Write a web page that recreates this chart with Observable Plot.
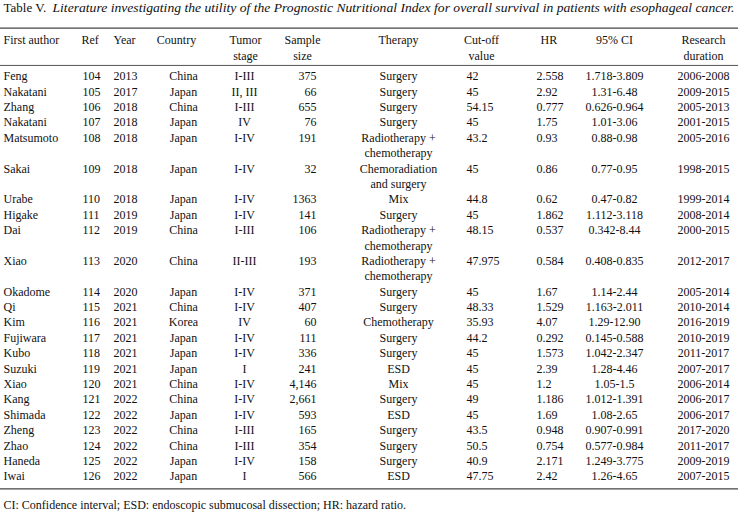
<!DOCTYPE html>
<html><head><meta charset="utf-8">
<script src="https://cdn.jsdelivr.net/npm/d3@7"></script>
<script src="https://cdn.jsdelivr.net/npm/@observablehq/plot@0.6"></script>
<style>body{margin:0;background:#fff;overflow:hidden}svg{display:block}</style>
</head><body><div id="chart"></div>
<script>
// ---- data ----
const authors = ["Feng","Nakatani","Zhang","Nakatani","Matsumoto","Sakai","Urabe","Higake","Dai","Xiao","Okadome","Qi","Kim","Fujiwara","Kubo","Suzuki","Xiao","Kang","Shimada","Zheng","Zhao","Haneda","Iwai"];
const refs = ["104","105","106","107","108","109","110","111","112","113","114","115","116","117","118","119","120","121","122","123","124","125","126"];
const years = ["2013","2017","2018","2018","2018","2018","2018","2019","2019","2020","2020","2021","2021","2021","2021","2021","2021","2022","2022","2022","2022","2022","2022"];
const countries = ["China","Japan","China","Japan","Japan","Japan","Japan","Japan","China","China","Japan","China","Korea","Japan","Japan","Japan","China","China","Japan","China","China","Japan","Japan"];
const stages = ["I-III","II, III","I-III","IV","I-IV","I-IV","I-IV","I-IV","I-III","II-III","I-IV","I-IV","IV","I-IV","I-IV","I","I-IV","I-IV","I-IV","I-III","I-III","I-IV","I"];
const sizes = ["375","66","655","76","191","32","1363","141","106","193","371","407","60","111","336","241","4,146","2,661","593","165","354","158","566"];
const therapies = ["Surgery","Surgery","Surgery","Surgery","Radiotherapy +\nchemotherapy","Chemoradiation\nand surgery","Mix","Surgery","Radiotherapy +\nchemotherapy","Radiotherapy +\nchemotherapy","Surgery","Surgery","Chemotherapy","Surgery","Surgery","ESD","Mix","Surgery","ESD","Surgery","Surgery","Surgery","ESD"];
const cutoffs = ["42","45","54.15","45","43.2","45","44.8","45","48.15","47.975","45","48.33","35.93","44.2","45","45","45","49","45","43.5","50.5","40.9","47.75"];
const hrs = ["2.558","2.92","0.777","1.75","0.93","0.86","0.62","1.862","0.537","0.584","1.67","1.529","4.07","0.292","1.573","2.39","1.2","1.186","1.69","0.948","0.754","2.171","2.42"];
const cis = ["1.718-3.809","1.31-6.48","0.626-0.964","1.01-3.06","0.88-0.98","0.77-0.95","0.47-0.82","1.112-3.118","0.342-8.44","0.408-0.835","1.14-2.44","1.163-2.011","1.29-12.90","0.145-0.588","1.042-2.347","1.28-4.46","1.05-1.5","1.012-1.391","1.08-2.65","0.907-0.991","0.577-0.984","1.249-3.775","1.26-4.65"];
const durations = ["2006-2008","2009-2015","2005-2013","2001-2015","2005-2016","1998-2015","1999-2014","2008-2014","2000-2015","2012-2017","2005-2014","2010-2014","2016-2019","2010-2019","2011-2017","2007-2017","2006-2014","2006-2017","2006-2017","2017-2020","2011-2017","2009-2019","2007-2015"];
const headerTop = ["First author","Ref","Year","Country","Tumor","Sample","Therapy","Cut-off","HR","95% CI","Research"];
const headerBottom = ["","","","","stage","size","","value","","","duration"];
const titleLead = "Table V.";
const titleText = "Literature investigating the utility of the Prognostic Nutritional Index for overall survival in patients with esophageal cancer.";
const footnote = "CI: Confidence interval; ESD: endoscopic submucosal dissection; HR: hazard ratio.";

// ---- build table ----
const fields = ["author","ref","year","country","stage","size","therapy","cutoff","hr","ci","duration"];
const rows = authors.map((a, i) => ({
  author: a, ref: refs[i], year: years[i], country: countries[i], stage: stages[i],
  size: sizes[i], therapy: therapies[i], cutoff: cutoffs[i], hr: hrs[i], ci: cis[i], duration: durations[i]
}));
let ln = 0;
rows.forEach(r => { r.line = ln; ln += r.therapy.split("\n").length; });
const lastLine = ln - 1;

// layout (positions of columns)
const layout = {
  author:   {x: 3,   anchor: "start",  hx: 3,   hanchor: "start"},
  ref:      {x: 82,  anchor: "start",  hx: 81,  hanchor: "start"},
  year:     {x: 113, anchor: "start",  hx: 113, hanchor: "start"},
  country:  {x: 183, anchor: "middle", hx: 176, hanchor: "middle"},
  stage:    {x: 244, anchor: "middle", hx: 245, hanchor: "middle"},
  size:     {x: 316, anchor: "end",    hx: 302, hanchor: "middle"},
  therapy:  {x: 398, anchor: "middle", hx: 398, hanchor: "middle"},
  cutoff:   {x: 466, anchor: "start",  hx: 481, hanchor: "middle"},
  hr:       {x: 536, anchor: "start",  hx: 540, hanchor: "start"},
  ci:       {x: 614, anchor: "middle", hx: 614, hanchor: "middle"},
  duration: {x: 703, anchor: "middle", hx: 703, hanchor: "middle"}
};
const font = "'Liberation Serif', 'Times New Roman', serif";
const fs = 12;
const ink = "#111";

const cells = rows.flatMap(r => fields.flatMap(f =>
  String(r[f]).split("\n").map((t, k) => ({field: f, text: t, line: r.line + k}))
));
const headers = fields.flatMap((f, i) => [
  {field: f, text: headerTop[i], line: -2.35},
  {field: f, text: headerBottom[i], line: -1.35}
]).filter(d => d.text);

const marks = [];
for (const f of fields) {
  const L = layout[f];
  marks.push(Plot.text(cells.filter(d => d.field === f), {
    x: () => L.x, y: "line", text: "text", textAnchor: L.anchor,
    fontSize: fs, fill: ink
  }));
  marks.push(Plot.text(headers.filter(d => d.field === f), {
    x: () => L.hx, y: "line", text: "text", textAnchor: L.hanchor,
    fontSize: fs, fill: ink
  }));
}
marks.push(Plot.ruleY([-3.15, lastLine + 0.8], {stroke: "#444", strokeWidth: 1.3}));
marks.push(Plot.ruleY([-0.72], {stroke: "#555", strokeWidth: 1}));
marks.push(Plot.text([titleLead], {x: () => 3, y: () => -4.45, text: d => d, textAnchor: "start", fontSize: 13, fill: ink}));
marks.push(Plot.text([titleText], {x: () => 52, y: () => -4.45, text: d => d, textAnchor: "start", fontSize: 13, fontStyle: "italic", fill: ink, className: "title-it"}));
marks.push(Plot.text([footnote], {x: () => 3, y: () => lastLine + 1.85, text: d => d, textAnchor: "start", fontSize: fs, fill: ink}));

const chart = Plot.plot({
  width: 738, height: 524,
  margin: 0,
  style: {fontFamily: font, background: "#fff"},
  x: {type: "identity"},
  y: {domain: [0, lastLine], range: [76, 476], axis: null},
  marks
});
d3.select(chart).selectAll(".title-it text")
  .attr("textLength", 682).attr("lengthAdjust", "spacingAndGlyphs");
document.getElementById("chart").appendChild(chart);
</script>
</body></html>
